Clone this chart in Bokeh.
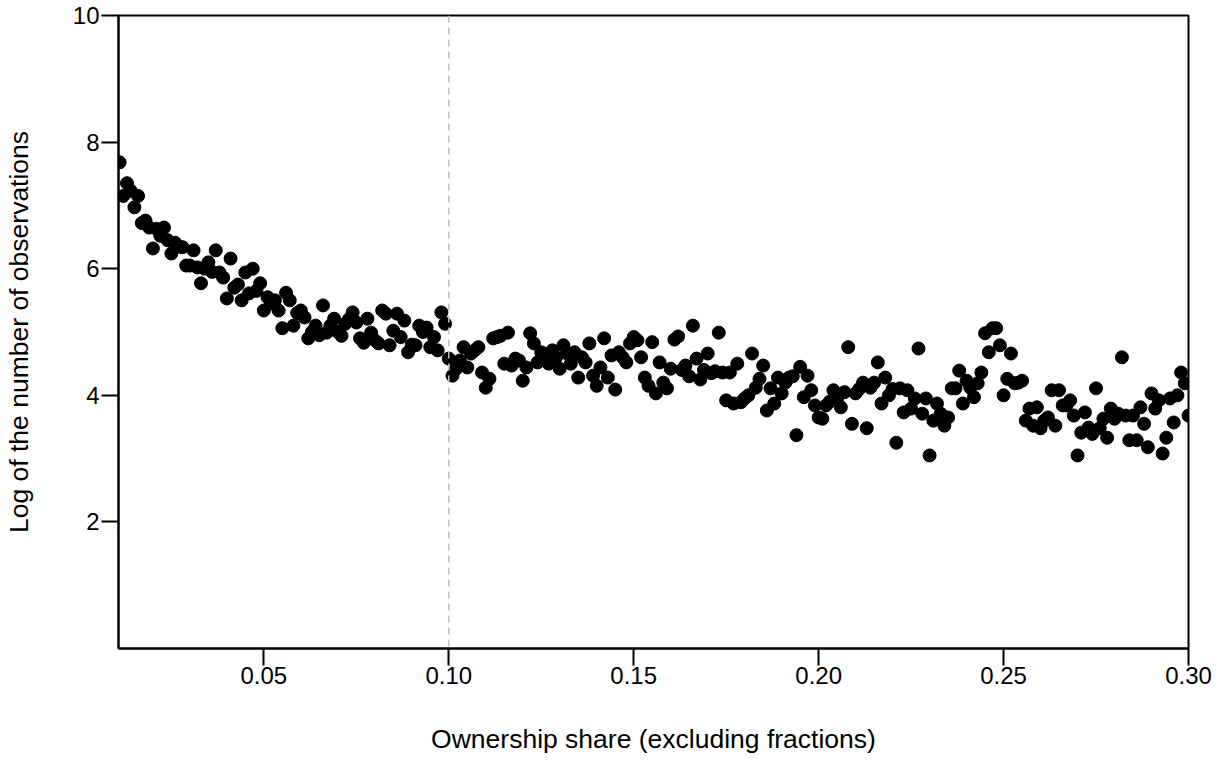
from bokeh.plotting import figure
from bokeh.models import FixedTicker, NumeralTickFormatter, Span, Range1d
from bokeh.embed import file_html
from bokeh.resources import INLINE

# ownership shares (0.011 .. 0.300 in steps of 0.001)
shares = [round(0.011 + 0.001 * i, 3) for i in range(290)]

log_obs = [
    7.68, 7.15, 7.35, 7.23, 6.97, 7.15, 6.72, 6.76, 6.65, 6.32,
    6.63, 6.52, 6.65, 6.45, 6.24, 6.41, 6.35, 6.34, 6.05, 6.05,
    6.29, 6.02, 5.77, 6.00, 6.10, 5.95, 6.29, 5.94, 5.86, 5.53,
    6.16, 5.70, 5.75, 5.50, 5.94, 5.61, 6.00, 5.65, 5.77, 5.34,
    5.55, 5.45, 5.50, 5.34, 5.06, 5.62, 5.50, 5.10, 5.30, 5.34,
    5.23, 4.90, 5.00, 5.10, 4.95, 5.42, 4.99, 5.10, 5.21, 5.00,
    4.94, 5.13, 5.20, 5.31, 5.15, 4.90, 4.83, 5.21, 4.99, 4.87,
    4.82, 5.34, 5.29, 4.79, 5.02, 5.29, 4.92, 5.18, 4.68, 4.80,
    4.79, 5.10, 5.00, 5.07, 4.76, 4.92, 4.71, 5.31, 5.13, 4.58,
    4.31, 4.42, 4.55, 4.76, 4.44, 4.66, 4.71, 4.76, 4.36, 4.12,
    4.26, 4.90, 4.92, 4.94, 4.50, 4.99, 4.47, 4.58, 4.55, 4.23,
    4.44, 4.98, 4.82, 4.52, 4.68, 4.55, 4.50, 4.71, 4.60, 4.42,
    4.79, 4.66, 4.50, 4.68, 4.28, 4.60, 4.52, 4.82, 4.31, 4.15,
    4.44, 4.90, 4.28, 4.63, 4.09, 4.68, 4.60, 4.52, 4.82, 4.92,
    4.87, 4.60, 4.28, 4.15, 4.84, 4.03, 4.52, 4.20, 4.11, 4.42,
    4.88, 4.93, 4.40, 4.47, 4.30, 5.10, 4.58, 4.25, 4.40, 4.66,
    4.35, 4.38, 4.99, 4.36, 3.92, 4.36, 3.87, 4.50, 3.89, 3.95,
    4.00, 4.66, 4.12, 4.26, 4.47, 3.76, 4.11, 3.87, 4.28, 4.03,
    4.20, 4.28, 4.30, 3.37, 4.45, 3.97, 4.31, 4.08, 3.84, 3.65,
    3.63, 3.84, 3.90, 4.08, 3.95, 3.81, 4.05, 4.76, 3.55, 4.03,
    4.10, 4.20, 3.48, 4.12, 4.20, 4.52, 3.87, 4.28, 4.00, 4.10,
    3.25, 4.11, 3.73, 4.08, 3.79, 3.95, 4.74, 3.71, 3.95, 3.05,
    3.60, 3.87, 3.71, 3.52, 3.65, 4.11, 4.11, 4.39, 3.87, 4.23,
    4.12, 3.97, 4.19, 4.36, 4.98, 4.68, 5.06, 5.06, 4.79, 4.00,
    4.26, 4.66, 4.19, 4.20, 4.23, 3.60, 3.79, 3.52, 3.81, 3.48,
    3.60, 3.65, 4.08, 3.52, 4.08, 3.84, 3.84, 3.92, 3.68, 3.05,
    3.41, 3.73, 3.49, 3.39, 4.11, 3.48, 3.63, 3.33, 3.79, 3.63,
    3.71, 4.60, 3.68, 3.29, 3.68, 3.29, 3.81, 3.55, 3.18, 4.03,
    3.79, 3.92, 3.08, 3.33, 3.95, 3.57, 4.00, 4.36, 4.19, 3.68,
]

x_ticks = [0.05, 0.10, 0.15, 0.20, 0.25, 0.30]
y_ticks = [2, 4, 6, 8, 10]
cutoff = 0.10

FONT = "Liberation Sans"

p = figure(width=1213, height=757, output_backend="svg", toolbar_location=None,
           x_range=Range1d(0.0107, 0.300), y_range=Range1d(0, 10),
           min_border_left=118, min_border_right=25, min_border_top=15,
           min_border_bottom=109)

p.outline_line_color = "black"
p.outline_line_width = 2
p.xgrid.visible = False
p.ygrid.visible = False
p.background_fill_color = "white"
p.border_fill_color = "white"

vline = Span(location=cutoff, dimension="height", line_color="#c0c0c0",
             line_dash="7 5", line_width=1.5)
p.add_layout(vline)

p.scatter(shares, log_obs, size=13, fill_color="black", line_color="black",
          marker="circle")

for ax in (p.xaxis[0], p.yaxis[0]):
    ax.axis_line_color = "black"
    ax.axis_line_width = 2
    ax.major_tick_line_width = 2
    ax.major_tick_line_color = "black"
    ax.major_tick_out = 17
    ax.major_tick_in = 0
    ax.minor_tick_out = 0
    ax.minor_tick_in = 0
    ax.major_label_text_font = FONT
    ax.major_label_text_font_size = "24px"
    ax.major_label_text_color = "black"
    ax.axis_label_text_font = FONT
    ax.axis_label_text_font_size = "26.5px"
    ax.axis_label_text_font_style = "normal"
    ax.axis_label_text_color = "black"

p.xaxis.ticker = FixedTicker(ticks=x_ticks)
p.xaxis.formatter = NumeralTickFormatter(format="0.00")
p.xaxis.axis_label = "Ownership share (excluding fractions)"
p.xaxis.major_label_standoff = 1
p.xaxis.axis_label_standoff = 37

p.yaxis.ticker = FixedTicker(ticks=y_ticks)
p.yaxis.axis_label = "Log of the number of observations"
p.yaxis.major_label_standoff = 2
p.yaxis.axis_label_standoff = 36
p.yaxis.major_label_orientation = "horizontal"

open("out.html", "w").write(file_html(p, INLINE))
